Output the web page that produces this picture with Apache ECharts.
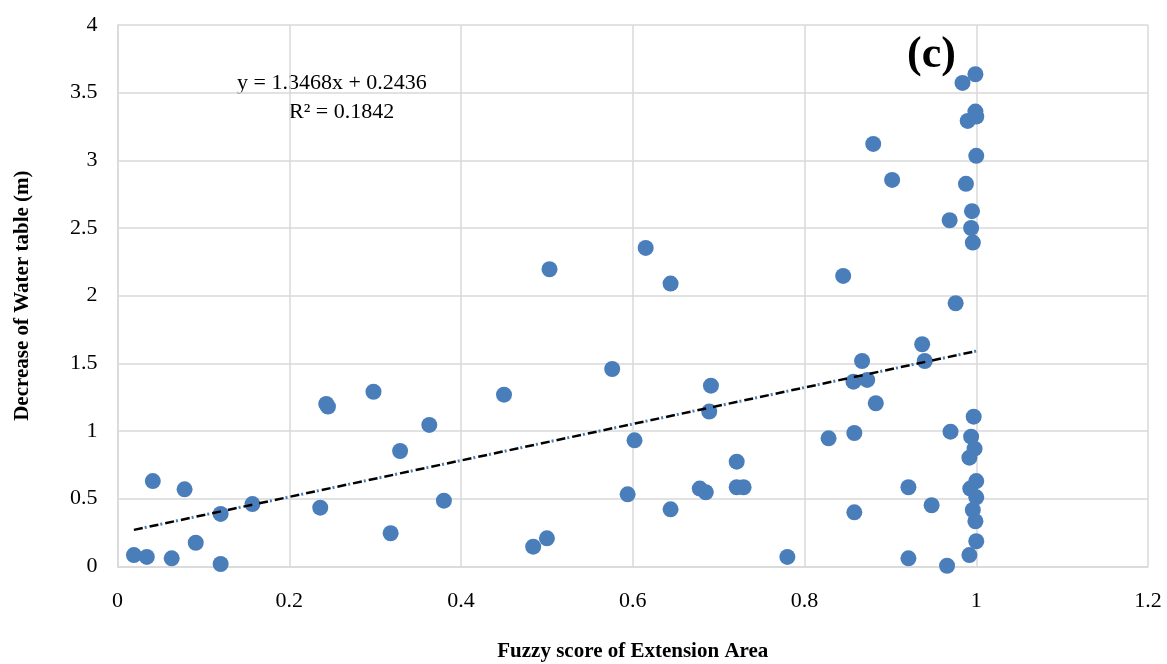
<!DOCTYPE html>
<html><head><meta charset="utf-8">
<script src="https://cdn.jsdelivr.net/npm/echarts@6/dist/echarts.min.js"></script>
<style>html,body{margin:0;padding:0;background:#fff}#c{width:1167px;height:664px}</style>
</head><body><div id="c"></div>
<script>
const xValues = [0.019,0.034,0.041,0.063,0.078,0.091,0.120,0.120,0.157,0.236,0.243,0.245,0.298,0.318,0.329,0.363,0.380,0.450,
 0.503,0.615,0.644,0.845,0.576,0.691,0.689,0.602,0.867,0.857,0.873,0.883,0.828,0.858,0.721,0.678,0.685,0.721,0.729,0.594,0.644,0.858,0.484,0.500,0.780,
 0.999,0.984,0.999,1.000,0.990,0.880,1.000,0.902,0.988,0.995,0.969,0.994,0.996,0.976,
 0.937,0.940,0.997,0.970,0.994,0.998,0.992,1.000,0.993,1.000,0.921,0.996,0.948,0.999,1.000,0.992,0.921,0.966];
const yValues = [0.083,0.069,0.630,0.059,0.569,0.174,0.387,0.017,0.460,0.433,1.200,1.180,1.290,0.244,0.852,1.045,0.485,1.268,
 2.195,2.353,2.089,2.146,1.458,1.335,1.143,0.931,1.517,1.364,1.377,1.205,0.946,0.985,0.773,0.574,0.547,0.584,0.584,0.532,0.421,0.399,0.145,0.207,0.069,
 3.636,3.572,3.360,3.323,3.291,3.121,3.033,2.855,2.826,2.624,2.557,2.500,2.392,1.944,
 1.641,1.517,1.106,0.995,0.958,0.869,0.803,0.630,0.574,0.510,0.584,0.416,0.451,0.333,0.185,0.083,0.059,0.004];
const trendSlope = 1.3468, trendIntercept = 0.2436;
const trendXRange = [0.019, 1.0];
const eqLabel = 'y = 1.3468x + 0.2436';
const r2Label = 'R² = 0.1842';
const panelLabel = '(c)';
const xTitle = 'Fuzzy score of Extension Area';
const yTitle = 'Decrease of Water table (m)';

const points = xValues.map((x,i)=>[x,yValues[i]]);
const trend = trendXRange.map(x=>[x, trendSlope*x+trendIntercept]);
const serif = '"Liberation Serif","Times New Roman",serif';
const chart = echarts.init(document.getElementById('c'));
chart.setOption({
  animation:false,
  grid:{left:117.6,right:19,top:25,bottom:97.7,containLabel:false,outerBoundsMode:'none'},
  xAxis:{type:'value',min:0,max:1.2,interval:0.2,
    axisLine:{show:true,lineStyle:{color:'#d9d9d9',width:1.5}},axisTick:{show:false},
    splitLine:{show:true,lineStyle:{color:'#d9d9d9',width:1.5}},
    axisLabel:{color:'#000',fontFamily:serif,fontSize:22,margin:24},
    name:xTitle,nameLocation:'middle',nameGap:75,
    nameTextStyle:{color:'#000',fontFamily:serif,fontSize:21,fontWeight:'bold'}},
  yAxis:{type:'value',min:0,max:4,interval:0.5,
    axisLine:{show:true,lineStyle:{color:'#d9d9d9',width:1.5}},axisTick:{show:false},
    splitLine:{show:true,lineStyle:{color:'#d9d9d9',width:1.5}},
    axisLabel:{color:'#000',fontFamily:serif,fontSize:22,margin:20},
    name:yTitle,nameLocation:'middle',nameGap:85,
    nameTextStyle:{color:'#000',fontFamily:serif,fontSize:21,fontWeight:'bold'}},
  graphic:[
    {type:'text',left:237,top:72,style:{text:eqLabel,font:'22px '+serif,fill:'#000'}},
    {type:'text',left:289,top:101,style:{text:r2Label,font:'22px '+serif,fill:'#000'}},
    {type:'text',left:907,top:34,style:{text:panelLabel,font:'bold 44px '+serif,fill:'#000'}}
  ],
  series:[
    {type:'scatter',data:points,symbol:'circle',symbolSize:16,itemStyle:{color:'#4a7ebb',opacity:1},z:2},
    {type:'line',data:trend,showSymbol:false,lineStyle:{color:'#4a7ebb',width:3,type:[2,14],dashOffset:-11},z:3,silent:true},
    {type:'line',data:trend,showSymbol:false,lineStyle:{color:'#000',width:2.5,type:[9,7]},z:4,silent:true}
  ]
});
</script></body></html>
